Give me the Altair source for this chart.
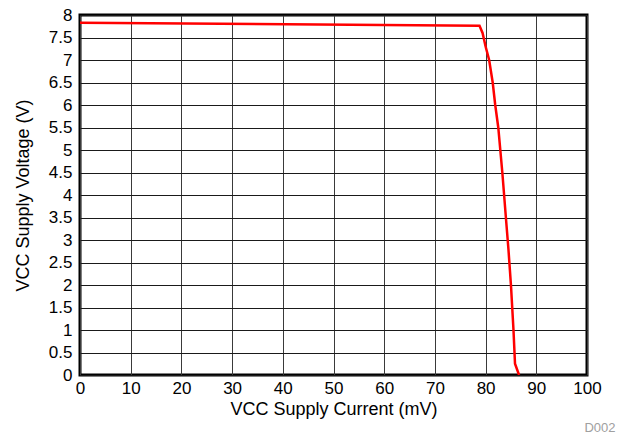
import altair as alt
import pandas as pd

current_ma = [0, 78.8, 79.4, 80.0, 80.7, 81.4, 81.9, 82.5, 83.3, 84.0, 84.5, 85.0, 85.5, 85.8, 86.6]
voltage_v = [7.83, 7.76, 7.6, 7.3, 7.0, 6.5, 6.0, 5.5, 4.5, 3.5, 2.8, 2.0, 1.0, 0.25, 0.0]

x_ticks = list(range(0, 101, 10))
y_ticks = [i * 0.5 for i in range(17)]

df = pd.DataFrame({"current": current_ma, "voltage": voltage_v})

FONT = "Liberation Sans"

line = alt.Chart(df).mark_line(color="#ff0000", strokeWidth=2.5, clip=True).encode(
    x=alt.X("current:Q", scale=alt.Scale(domain=[0, 100], nice=False),
            axis=alt.Axis(values=x_ticks, title="VCC Supply Current (mV)", grid=True,
                          gridColor="#3a3a3a", gridWidth=1, ticks=False, domain=False,
                          labelFlush=False, labelOverlap=False,
                          labelPadding=5, titlePadding=4, format="d")),
    y=alt.Y("voltage:Q", scale=alt.Scale(domain=[0, 8], nice=False),
            axis=alt.Axis(values=y_ticks, title="VCC Supply Voltage (V)", grid=True,
                          gridColor="#1a1a1a", gridWidth=1, ticks=False, domain=False,
                          labelFlush=False, labelOverlap=False,
                          labelPadding=8, titlePadding=16, labelExpr="datum.value")),
    order=alt.Order("current:Q"),
)

note = alt.Chart(pd.DataFrame({"t": ["D002"]})).mark_text(
    color="#a0a0a0", fontSize=13, font=FONT, align="center", baseline="middle"
).encode(x=alt.value(520), y=alt.value(413), text="t:N")

chart = alt.layer(line, note).properties(
    width=507, height=360,
    autosize=alt.AutoSizeParams(type="none"),
    padding={"left": 80, "top": 15, "right": 36, "bottom": 59},
).configure_view(stroke="#000000", strokeWidth=3).configure_axis(
    labelFont=FONT, titleFont=FONT, labelFontSize=17, titleFontSize=18,
    labelColor="#000000", titleColor="#000000", titleFontWeight="normal",
)

chart.save("out.html", embed_options={"renderer": "svg", "actions": False})
